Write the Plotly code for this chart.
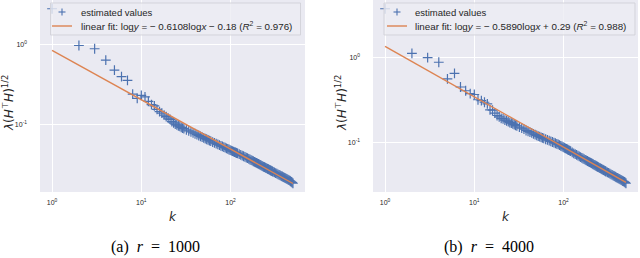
import math
import plotly.graph_objects as go

# ---------------- data ----------------
k_vals = ([1, 2, 3, 4, 5, 6, 7, 8, 9, 10, 11, 12, 13, 14, 15, 16, 17, 18, 19, 20,
           21, 22, 23, 24, 25, 26, 27, 28, 29, 30]
          + [32, 34, 36, 38, 40, 42, 44, 46, 48, 50, 52, 54, 56, 58, 60]
          + [63, 66, 69, 72, 75, 78, 81, 84, 87, 90, 93, 96, 99, 102, 105, 108, 111, 114, 117, 120]
          + [125, 130, 135, 140, 145, 150, 155, 160, 165, 170, 175, 180, 185, 190, 195, 200,
             205, 210, 215, 220, 225, 230, 235, 240, 245, 250, 255, 260, 265, 270, 275, 280,
             285, 290, 295, 300]
          + [310, 320, 330, 340, 350, 360, 370, 380, 390, 400, 410, 420, 430, 440, 450, 460,
             470, 480, 490, 500])

# (a) r = 1000
v_a = ([2.74, 0.96, 0.875, 0.634, 0.476, 0.395, 0.355, 0.24, 0.213, 0.232, 0.222, 0.195,
        0.178, 0.172, 0.155, 0.146, 0.14, 0.132, 0.126, 0.121, 0.117, 0.11, 0.106, 0.102,
        0.1, 0.097, 0.096, 0.093, 0.091, 0.0895]
       + [0.0865, 0.084, 0.0818, 0.0796, 0.0775, 0.0756, 0.0737, 0.072, 0.0705, 0.069,
          0.0676, 0.0663, 0.065, 0.0638, 0.0627]
       + [0.0612, 0.0598, 0.0585, 0.0573, 0.0561, 0.055, 0.054, 0.053, 0.0521, 0.0512,
          0.0503, 0.0495, 0.0487, 0.048, 0.0473, 0.0466, 0.046, 0.0454, 0.0448, 0.0442]
       + [0.0433, 0.0424, 0.0416, 0.0408, 0.04, 0.0393, 0.0386, 0.0379, 0.0372, 0.0366,
          0.036, 0.0354, 0.0348, 0.0343, 0.0338, 0.0333, 0.0328, 0.0323, 0.0319, 0.0315,
          0.031, 0.0306, 0.0302, 0.0299, 0.0295, 0.0291, 0.0288, 0.0285, 0.0282, 0.0279,
          0.0276, 0.0273, 0.027, 0.0267, 0.0265, 0.0262]
       + [0.0257, 0.0252, 0.0248, 0.0244, 0.024, 0.0236, 0.0232, 0.0229, 0.0225, 0.0222,
          0.0219, 0.0216, 0.0213, 0.021, 0.0207, 0.0204, 0.02, 0.0197, 0.0193, 0.0189])

# (b) r = 4000
v_b = ([3.68, 1.11, 0.99, 0.872, 0.557, 0.645, 0.448, 0.405, 0.375, 0.366, 0.318, 0.31,
        0.297, 0.284, 0.242, 0.24, 0.222, 0.208, 0.2, 0.193, 0.19, 0.184, 0.18, 0.176,
        0.172, 0.169, 0.166, 0.163, 0.16, 0.157]
       + [0.152, 0.148, 0.144, 0.139, 0.136, 0.133, 0.13, 0.127, 0.124, 0.122, 0.1195,
          0.1175, 0.1155, 0.1138, 0.1122]
       + [0.1098, 0.1077, 0.1057, 0.1038, 0.102, 0.1002, 0.0986, 0.097, 0.0955, 0.0935,
          0.092, 0.0905, 0.0888, 0.0873, 0.0859, 0.0846, 0.0833, 0.0821, 0.0809, 0.0797]
       + [0.077, 0.0752, 0.0735, 0.072, 0.0705, 0.0692, 0.0678, 0.0665, 0.0654, 0.0642,
          0.0631, 0.0621, 0.0611, 0.0601, 0.0592, 0.0584, 0.0576, 0.0568, 0.056, 0.0552,
          0.0545, 0.0538, 0.0531, 0.0524, 0.0518, 0.0512, 0.0506, 0.05, 0.0494, 0.0489,
          0.0484, 0.0479, 0.0474, 0.0469, 0.0464, 0.046]
       + [0.0451, 0.0443, 0.0435, 0.0427, 0.042, 0.0413, 0.0406, 0.04, 0.0394, 0.0388,
          0.0383, 0.0377, 0.0372, 0.0367, 0.0362, 0.0357, 0.0353, 0.0348, 0.0343, 0.0336])

# linear fits in log space (natural log), as printed in the legends
fit_slope = [-0.6108, -0.5890]
fit_intercept = [-0.18, 0.29]
fit_r2 = [0.976, 0.988]

x_tickvals = [1, 10, 100]
x_ticktext = ["10<sup>0</sup>", "10<sup>1</sup>", "10<sup>2</sup>"]
y_tickvals = [0.1, 1]
y_ticktext = ["10<sup>-1</sup>", "10<sup>0</sup>"]

captions = ["(a)\u00a0\u00a0<i>r</i>\u00a0\u00a0=\u00a0\u00a01000",
            "(b)\u00a0\u00a0<i>r</i>\u00a0\u00a0=\u00a0\u00a04000"]

# ---------------- figure ----------------
W, H = 640, 258
BLUE = "#4C72B0"
ORANGE = "#DD8452"
BG = "#EAEAF2"
TXT = "#262626"

fig = go.Figure()

datasets = [(k_vals, v_a), (k_vals, v_b)]
axes = [("x", "y"), ("x2", "y2")]
for i, ((ks, vs), (xa, ya)) in enumerate(zip(datasets, axes)):
    fig.add_trace(go.Scatter(
        x=ks, y=vs, mode="markers", xaxis=xa, yaxis=ya, showlegend=False,
        marker=dict(symbol="cross-thin", size=7, color=BLUE,
                    line=dict(width=1.2, color=BLUE)),
        name="estimated values"))
    xf = [ks[0], ks[-1]]
    yf = [math.exp(fit_intercept[i] + fit_slope[i] * math.log(x)) for x in xf]
    fig.add_trace(go.Scatter(
        x=xf, y=yf, mode="lines", xaxis=xa, yaxis=ya, showlegend=False,
        line=dict(color=ORANGE, width=1.4), name="linear fit"))

# plot areas in pixels
plot_px = [(40, 305), (373, 638)]
plot_h = 192
margin_b = H - plot_h

def px2x(p):
    return p / W

def py2y(p):
    return 1 - p / plot_h

common_x = dict(type="log", range=[-0.135, 2.834], showgrid=True, gridcolor="white",
                gridwidth=1.3, zeroline=False, showline=False, ticks="",
                tickvals=x_tickvals, ticktext=x_ticktext,
                tickfont=dict(family="Liberation Sans", size=7, color=TXT),
                ticklabelstandoff=5)
common_y = dict(type="log", showgrid=True, gridcolor="white", gridwidth=1.3,
                zeroline=False, showline=False, ticks="",
                tickvals=y_tickvals, ticktext=y_ticktext,
                tickfont=dict(family="Liberation Sans", size=7, color=TXT),
                ticklabelstandoff=12)

fig.update_layout(
    width=W, height=H,
    margin=dict(l=0, r=0, t=0, b=margin_b, pad=0),
    paper_bgcolor="white", plot_bgcolor=BG,
    xaxis=dict(domain=[px2x(plot_px[0][0]), px2x(plot_px[0][1])], anchor="y", **common_x),
    yaxis=dict(domain=[0, 1], anchor="x", range=[-1.832, 0.546], **common_y),
    xaxis2=dict(domain=[px2x(plot_px[1][0]), px2x(plot_px[1][1])], anchor="y2", **common_x),
    yaxis2=dict(domain=[0, 1], anchor="x2", range=[-1.576, 0.668], **common_y),
    showlegend=False,
)

annotations = []
shapes = []
ylabel = "<i>λ</i>(<i>H</i><sup>⊤</sup><i>H</i>)<sup>1/2</sup>"
legend_fit = "linear fit: log<i>y</i> = − {:.4f}log<i>x</i> {} {:.2f} (<i>R</i><sup>2</sup> = {:.3f})"

# legend geometry (pixels): box left/right, swatch centre, text start
leg = [dict(box=(50.5, 300.5), sw=62, tx=79), dict(box=(384, 635), sw=397, tx=413)]

for i in range(2):
    x0, x1 = plot_px[i]
    cx = (x0 + x1) / 2
    # y axis title
    annotations.append(dict(text=ylabel, xref="paper", yref="paper",
                            x=px2x(x0 - 32), y=py2y(103), xanchor="center", yanchor="middle",
                            textangle=-90, showarrow=False,
                            font=dict(family="DejaVu Sans", size=12, color=TXT)))
    # x axis title
    annotations.append(dict(text="<i>k</i>", xref="paper", yref="paper",
                            x=px2x(cx), y=py2y(217), xanchor="center", yanchor="middle",
                            showarrow=False,
                            font=dict(family="DejaVu Sans", size=12, color=TXT)))
    # caption
    annotations.append(dict(text=captions[i], xref="paper", yref="paper",
                            x=px2x([155, 489][i]), y=py2y(247), xanchor="center",
                            yanchor="middle", showarrow=False,
                            font=dict(family="Liberation Serif", size=16, color="black")))
    # legend box
    L = leg[i]
    shapes.append(dict(type="rect", xref="paper", yref="paper", layer="above",
                       x0=px2x(L["box"][0]), x1=px2x(L["box"][1]),
                       y0=py2y(35), y1=py2y(3),
                       fillcolor="rgba(236,236,243,0.8)",
                       line=dict(color="rgba(210,210,216,0.9)", width=1)))
    # marker swatch: a cross
    shapes.append(dict(type="line", xref="paper", yref="paper", layer="above",
                       x0=px2x(L["sw"] - 3.5), x1=px2x(L["sw"] + 3.5),
                       y0=py2y(12), y1=py2y(12), line=dict(color=BLUE, width=1.1)))
    shapes.append(dict(type="line", xref="paper", yref="paper", layer="above",
                       x0=px2x(L["sw"]), x1=px2x(L["sw"]),
                       y0=py2y(8.5), y1=py2y(15.5), line=dict(color=BLUE, width=1.1)))
    # line swatch
    shapes.append(dict(type="line", xref="paper", yref="paper", layer="above",
                       x0=px2x(L["sw"] - 10), x1=px2x(L["sw"] + 10),
                       y0=py2y(26), y1=py2y(26), line=dict(color=ORANGE, width=1.4)))
    annotations.append(dict(text="estimated values", xref="paper", yref="paper",
                            x=px2x(L["tx"]), y=py2y(12), xanchor="left", yanchor="middle",
                            showarrow=False,
                            font=dict(family="Liberation Sans", size=9.5, color=TXT)))
    sign = "+" if fit_intercept[i] >= 0 else "−"
    annotations.append(dict(text=legend_fit.format(abs(fit_slope[i]), sign,
                                                   abs(fit_intercept[i]), fit_r2[i]),
                            xref="paper", yref="paper",
                            x=px2x(L["tx"]), y=py2y(26), xanchor="left", yanchor="middle",
                            showarrow=False,
                            font=dict(family="Liberation Sans", size=9.8, color=TXT)))

fig.update_layout(annotations=annotations, shapes=shapes)
fig.write_html("out.html", config={"displayModeBar": False},
               post_script="document.body.style.margin='0';document.body.style.overflow='hidden';")
